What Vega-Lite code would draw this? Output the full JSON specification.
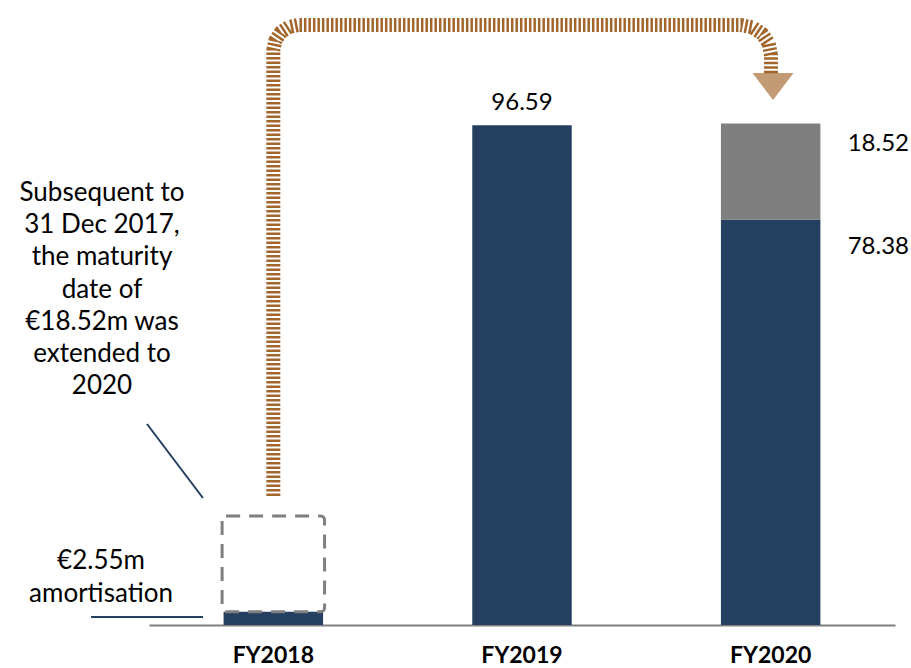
{
  "$schema": "https://vega.github.io/schema/vega-lite/v6.json",
  "autosize": {"type": "none"},
  "width": 746,
  "height": 621,
  "padding": {"left": 149, "top": 4, "right": 16, "bottom": 43},
  "background": "white",
  "config": {"view": {"stroke": null}, "font": "Lato"},
  "datasets": {
    "bars": [
      {"year": "FY2018", "part": "Outstanding", "stackOrder": 1, "value": 2.55},
      {"year": "FY2019", "part": "Outstanding", "stackOrder": 1, "value": 96.59},
      {"year": "FY2020", "part": "Outstanding", "stackOrder": 1, "value": 78.38},
      {"year": "FY2020", "part": "Extended", "stackOrder": 2, "value": 18.52}
    ],
    "box": [{"year": "FY2018", "from": 2.55, "to": 21.07}],
    "arrow": [
      {"i": 1, "q": 0.0, "v": 24.93},
      {"i": 2, "q": 0.0, "v": 111.11},
      {"i": 3, "q": 0.0083, "v": 112.97},
      {"i": 4, "q": 0.030, "v": 114.53},
      {"i": 5, "q": 0.0626, "v": 115.57},
      {"i": 6, "q": 0.1012, "v": 115.94},
      {"i": 7, "q": 1.8807, "v": 115.94},
      {"i": 8, "q": 1.9269, "v": 115.50},
      {"i": 9, "q": 1.9659, "v": 114.24},
      {"i": 10, "q": 1.9921, "v": 112.37},
      {"i": 11, "q": 2.0013, "v": 110.14},
      {"i": 12, "q": 2.0013, "v": 106.47}
    ],
    "arrowhead": [{"q": 2.0094, "v": 104.06}],
    "leaders": [
      {"q1": -0.733, "q2": -0.283, "v1": 1.55, "v2": 1.55},
      {"q1": -0.508, "q2": -0.283, "v1": 38.84, "v2": 24.54}
    ],
    "notes": [
      {"q": -0.689, "v": 83.48, "lh": "big", "text": ["Subsequent to", "31 Dec 2017,", "the maturity", "date of", "€18.52m was", "extended to", "2020"]},
      {"q": -0.693, "v": 12.37, "lh": "small", "text": ["€2.55m", "amortisation"]}
    ]
  },
  "resolve": {"scale": {"x": "independent"}},
  "layer": [
    {
      "encoding": {
        "x": {
          "field": "year",
          "type": "nominal",
          "sort": ["FY2018", "FY2019", "FY2020"],
          "scale": {"paddingInner": 0.6, "paddingOuter": 0.3},
          "axis": {
            "title": null,
            "ticks": false,
            "domainColor": "#7f7f7f",
            "domainWidth": 2,
            "labelAngle": 0,
            "labelFont": "Lato",
            "labelFontWeight": "bold",
            "labelFontSize": 23,
            "labelColor": "#000000",
            "labelPadding": 19
          }
        }
      },
      "layer": [
        {
          "data": {"name": "bars"},
          "mark": {"type": "bar"},
          "encoding": {
            "y": {"field": "value", "type": "quantitative", "stack": "zero", "scale": {"domain": [0, 120], "nice": false}, "axis": null},
            "color": {"field": "part", "type": "nominal", "scale": {"domain": ["Outstanding", "Extended"], "range": ["#243f60", "#7f7f7f"]}, "legend": null},
            "order": {"field": "stackOrder", "type": "quantitative"}
          }
        },
        {
          "data": {"name": "box"},
          "mark": {"type": "bar", "fill": null, "fillOpacity": 0, "stroke": "#7f7f7f", "strokeWidth": 3, "strokeDash": [14, 9], "cornerRadius": 4, "width": {"band": 1.03}},
          "encoding": {
            "y": {"field": "to", "type": "quantitative", "scale": {"domain": [0, 120], "nice": false}, "axis": null},
            "y2": {"field": "from"}
          }
        },
        {
          "data": {"name": "bars"},
          "transform": [{"filter": "datum.year === 'FY2019'"}],
          "mark": {"type": "text", "font": "Lato", "fontSize": 24, "color": "#000000", "baseline": "middle", "dy": -22},
          "encoding": {
            "y": {"field": "value", "type": "quantitative", "scale": {"domain": [0, 120], "nice": false}, "axis": null},
            "text": {"field": "value", "type": "quantitative", "format": ".2f"}
          }
        },
        {
          "data": {"name": "bars"},
          "transform": [{"filter": "datum.year === 'FY2020' && datum.part === 'Extended'"}],
          "mark": {"type": "text", "font": "Lato", "fontSize": 24, "color": "#000000", "baseline": "middle", "align": "left", "dx": 77, "dy": 20},
          "encoding": {
            "y": {"datum": 96.9, "type": "quantitative", "scale": {"domain": [0, 120], "nice": false}, "axis": null},
            "text": {"field": "value", "type": "quantitative", "format": ".2f"}
          }
        },
        {
          "data": {"name": "bars"},
          "transform": [{"filter": "datum.year === 'FY2020' && datum.part === 'Outstanding'"}],
          "mark": {"type": "text", "font": "Lato", "fontSize": 24, "color": "#000000", "baseline": "middle", "align": "left", "dx": 77, "dy": 28},
          "encoding": {
            "y": {"field": "value", "type": "quantitative", "scale": {"domain": [0, 120], "nice": false}, "axis": null},
            "text": {"field": "value", "type": "quantitative", "format": ".2f"}
          }
        }
      ]
    },
    {
      "encoding": {
        "x": {"type": "quantitative", "scale": {"domain": [-0.5, 2.5], "nice": false, "zero": false}, "axis": null}
      },
      "layer": [
        {
          "data": {"name": "arrow"},
          "mark": {"type": "line", "color": "#a2652b", "strokeWidth": 14, "strokeDash": [2.5, 2], "strokeCap": "butt", "strokeJoin": "round", "clip": false},
          "encoding": {
            "x": {"field": "q", "type": "quantitative", "scale": {"domain": [-0.5, 2.5], "nice": false, "zero": false}, "axis": null},
            "y": {"field": "v", "type": "quantitative", "scale": {"domain": [0, 120], "nice": false}, "axis": null},
            "order": {"field": "i", "type": "quantitative"}
          }
        },
        {
          "data": {"name": "arrowhead"},
          "mark": {"type": "point", "shape": "M-1,-0.66L1,-0.66L0,0.66Z", "size": 1681, "filled": true, "color": "#a2652b", "opacity": 0.65, "clip": false},
          "encoding": {
            "x": {"field": "q", "type": "quantitative", "scale": {"domain": [-0.5, 2.5], "nice": false, "zero": false}, "axis": null},
            "y": {"field": "v", "type": "quantitative", "scale": {"domain": [0, 120], "nice": false}, "axis": null}
          }
        },
        {
          "data": {"name": "leaders"},
          "mark": {"type": "rule", "color": "#243f60", "strokeWidth": 2, "clip": false},
          "encoding": {
            "x": {"field": "q1", "type": "quantitative", "scale": {"domain": [-0.5, 2.5], "nice": false, "zero": false}, "axis": null},
            "x2": {"field": "q2"},
            "y": {"field": "v1", "type": "quantitative", "scale": {"domain": [0, 120], "nice": false}, "axis": null},
            "y2": {"field": "v2"}
          }
        },
        {
          "data": {"name": "notes"},
          "transform": [{"filter": "datum.lh === 'big'"}],
          "mark": {"type": "text", "font": "Lato", "fontSize": 26, "lineHeight": 32.2, "color": "#000000", "align": "center", "baseline": "middle", "clip": false},
          "encoding": {
            "x": {"field": "q", "type": "quantitative", "scale": {"domain": [-0.5, 2.5], "nice": false, "zero": false}, "axis": null},
            "y": {"field": "v", "type": "quantitative", "scale": {"domain": [0, 120], "nice": false}, "axis": null},
            "text": {"field": "text"}
          }
        },
        {
          "data": {"name": "notes"},
          "transform": [{"filter": "datum.lh === 'small'"}],
          "mark": {"type": "text", "font": "Lato", "fontSize": 26, "lineHeight": 33, "color": "#000000", "align": "center", "baseline": "middle", "clip": false},
          "encoding": {
            "x": {"field": "q", "type": "quantitative", "scale": {"domain": [-0.5, 2.5], "nice": false, "zero": false}, "axis": null},
            "y": {"field": "v", "type": "quantitative", "scale": {"domain": [0, 120], "nice": false}, "axis": null},
            "text": {"field": "text"}
          }
        }
      ]
    }
  ]
}
